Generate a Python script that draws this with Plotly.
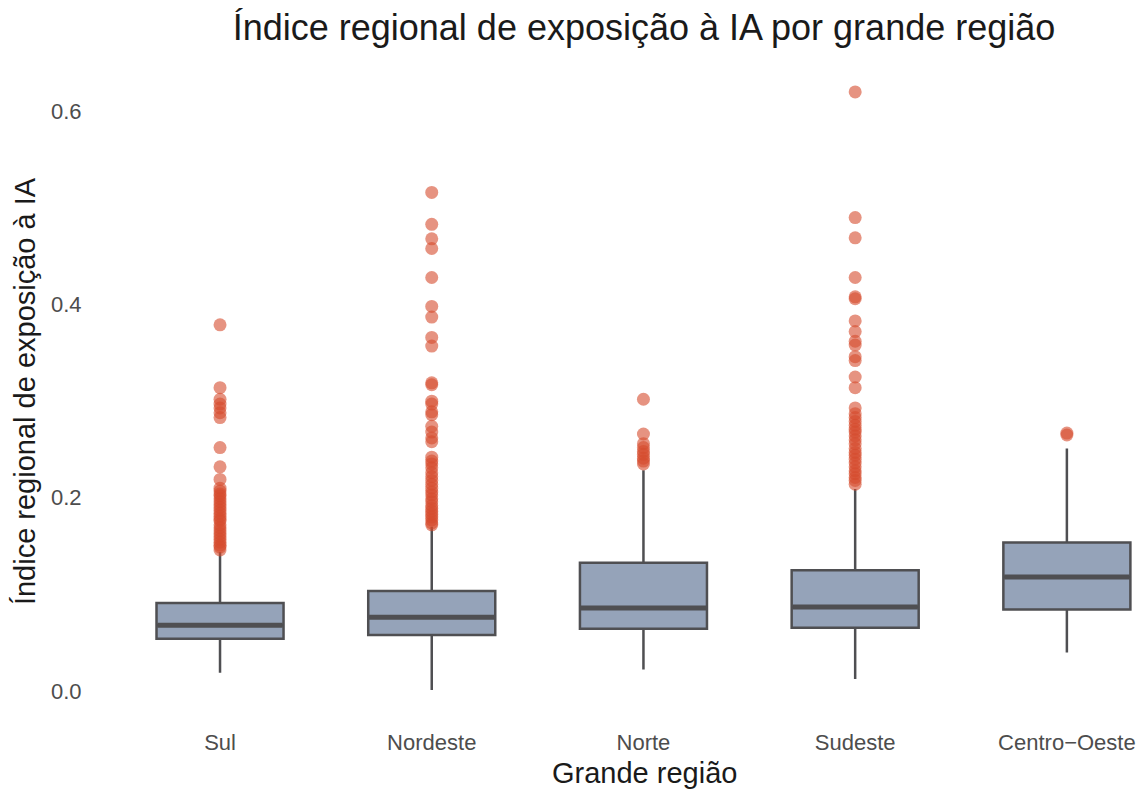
import plotly.graph_objects as go

# Regions on the horizontal axis
regioes = ["Sul", "Nordeste", "Norte", "Sudeste", "Centro\u2212Oeste"]

# Box statistics per region
q1 = [0.054, 0.058, 0.0645, 0.0656, 0.0845]
mediana = [0.068, 0.0765, 0.086, 0.0869, 0.118]
q3 = [0.091, 0.1035, 0.1327, 0.125, 0.1538]
limite_inf = [0.019, 0.001, 0.0224, 0.0124, 0.040]
limite_sup = [0.144, 0.170, 0.2286, 0.209, 0.251]

# Outlying municipalities per region
out_sul = [0.379, 0.314, 0.302, 0.297, 0.293, 0.288, 0.283, 0.252, 0.232, 0.219,
           0.210, 0.207, 0.204, 0.202, 0.199, 0.196, 0.193, 0.190, 0.187, 0.184,
           0.181, 0.178, 0.176, 0.172, 0.169, 0.166, 0.163, 0.160, 0.157, 0.154,
           0.151, 0.149, 0.146]
out_nordeste = [0.516, 0.483, 0.468, 0.458, 0.428, 0.398, 0.387, 0.366, 0.357,
                0.319, 0.317, 0.300, 0.297, 0.289, 0.286, 0.274, 0.268, 0.262,
                0.258, 0.242, 0.238, 0.235, 0.231, 0.226, 0.222, 0.218, 0.214,
                0.210, 0.206, 0.203, 0.199, 0.196, 0.192, 0.189, 0.186, 0.183,
                0.180, 0.177, 0.174, 0.172]
out_norte = [0.302, 0.266, 0.256, 0.252, 0.248, 0.245, 0.241, 0.238, 0.235]
out_sudeste = [0.620, 0.490, 0.469, 0.428, 0.408, 0.406, 0.383, 0.372, 0.362,
               0.358, 0.346, 0.342, 0.325, 0.314, 0.293, 0.287, 0.283, 0.279,
               0.275, 0.271, 0.268, 0.264, 0.260, 0.256, 0.251, 0.247, 0.244,
               0.240, 0.236, 0.232, 0.228, 0.225, 0.221, 0.218, 0.214]
out_centro_oeste = [0.267, 0.265]
outliers = [out_sul, out_nordeste, out_norte, out_sudeste, out_centro_oeste]

y_ticks = [0.0, 0.2, 0.4, 0.6]
y_ticklabels = ["0.0", "0.2", "0.4", "0.6"]

FONT = "Liberation Sans, Arial, sans-serif"
BOX_FILL = "#95A3B9"
BOX_LINE = "#4F4F52"
PT_COLOR = "rgba(213,75,45,0.6)"
HALF = 0.3

posicoes = list(range(1, len(regioes) + 1))

fig = go.Figure()

for i, pos in enumerate(posicoes):
    fig.add_trace(go.Box(
        x=[pos], q1=[q1[i]], median=[mediana[i]], q3=[q3[i]],
        lowerfence=[limite_inf[i]], upperfence=[limite_sup[i]],
        width=2 * HALF, whiskerwidth=0, boxpoints=False,
        fillcolor=BOX_FILL, line=dict(color=BOX_LINE, width=2.5),
        showlegend=False, hoverinfo="skip",
    ))

# Thicker median bars
for i, pos in enumerate(posicoes):
    fig.add_trace(go.Scatter(
        x=[pos - HALF + 0.004, pos + HALF - 0.004], y=[mediana[i], mediana[i]],
        mode="lines", line=dict(color=BOX_LINE, width=5),
        showlegend=False, hoverinfo="skip",
    ))

# Outlier points
for i, pos in enumerate(posicoes):
    fig.add_trace(go.Scatter(
        x=[pos] * len(outliers[i]), y=outliers[i], mode="markers",
        marker=dict(size=13, color=PT_COLOR, line=dict(width=0)),
        showlegend=False,
    ))

fig.update_layout(
    width=1145, height=789,
    margin=dict(l=93, r=0, t=62, b=68),
    paper_bgcolor="white", plot_bgcolor="white",
    font=dict(family=FONT),
    title=dict(
        text="Índice regional de exposição à IA por grande região",
        font=dict(size=36, color="#1a1a1a", family=FONT),
        x=644 / 1145, xref="container", xanchor="center",
        y=1 - 27 / 789, yref="container", yanchor="middle",
    ),
    xaxis=dict(
        range=[0.4, 5.369], tickvals=posicoes, ticktext=regioes,
        showgrid=False, zeroline=False, showline=False,
        ticks="outside", ticklen=2, tickcolor="rgba(0,0,0,0)",
        tickfont=dict(size=22, color="#4d4d4d"),
    ),
    yaxis=dict(
        range=[-0.031, 0.651], tickvals=y_ticks, ticktext=y_ticklabels,
        showgrid=False, zeroline=False, showline=False,
        ticks="outside", ticklen=6, tickcolor="rgba(0,0,0,0)",
        tickfont=dict(size=22, color="#4d4d4d"),
        title=dict(text="Índice regional de exposição à IA", font=dict(size=29, color="#1a1a1a"), standoff=6),
    ),
    annotations=[dict(
        text="Grande região", xref="paper", yref="paper",
        x=(644 - 93) / (1145 - 93), y=-(773 - 721) / (721 - 62),
        xanchor="center", yanchor="middle", showarrow=False,
        font=dict(size=29, color="#1a1a1a", family=FONT),
    )],
)

fig.write_html("out.html")
